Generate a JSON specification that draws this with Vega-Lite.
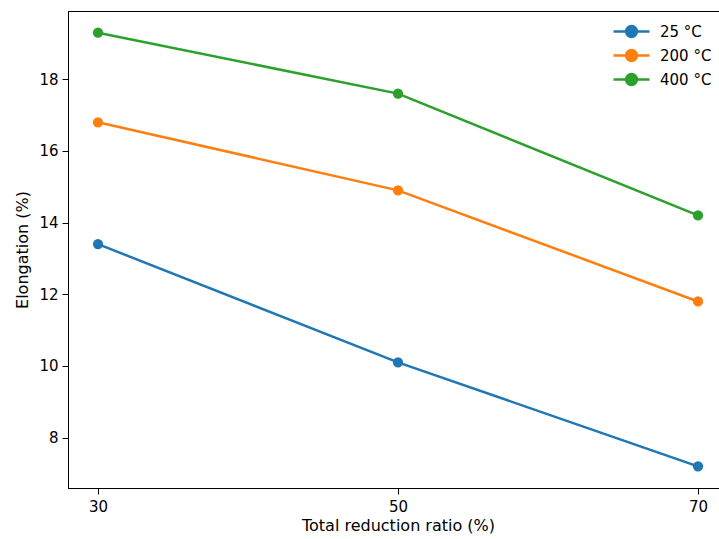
{
  "$schema": "https://vega.github.io/schema/vega-lite/v6.json",
  "autosize": {"type": "none"},
  "padding": {"left": 68, "top": 11, "right": 0, "bottom": 51},
  "width": 660,
  "height": 477,
  "background": "white",
  "config": {
    "font": "DejaVu Sans",
    "view": {"stroke": "black", "strokeWidth": 1},
    "axis": {
      "labelFont": "DejaVu Sans", "titleFont": "DejaVu Sans",
      "labelFontSize": 15, "titleFontSize": 16,
      "labelColor": "black", "titleColor": "black",
      "titleFontWeight": "normal",
      "domainColor": "black", "tickColor": "black",
      "tickSize": 6, "grid": false, "labelPadding": 4
    }
  },
  "data": {"values": [
    {"ratio": 30, "elong": 13.4, "temp": "25 °C"},
    {"ratio": 50, "elong": 10.1, "temp": "25 °C"},
    {"ratio": 70, "elong": 7.2, "temp": "25 °C"},
    {"ratio": 30, "elong": 16.8, "temp": "200 °C"},
    {"ratio": 50, "elong": 14.9, "temp": "200 °C"},
    {"ratio": 70, "elong": 11.8, "temp": "200 °C"},
    {"ratio": 30, "elong": 19.3, "temp": "400 °C"},
    {"ratio": 50, "elong": 17.6, "temp": "400 °C"},
    {"ratio": 70, "elong": 14.2, "temp": "400 °C"}
  ]},
  "encoding": {
    "x": {"field": "ratio", "type": "quantitative",
      "scale": {"domain": [28, 72], "nice": false, "zero": false},
      "axis": {"values": [30, 50, 70], "title": "Total reduction ratio (%)", "labelPadding": 5, "titlePadding": 3}},
    "y": {"field": "elong", "type": "quantitative",
      "scale": {"domain": [6.595, 19.905], "nice": false, "zero": false},
      "axis": {"values": [8, 10, 12, 14, 16, 18], "title": "Elongation (%)", "titlePadding": 8}},
    "color": {"field": "temp", "type": "nominal",
      "sort": ["25 °C", "200 °C", "400 °C"],
      "scale": {"domain": ["25 °C", "200 °C", "400 °C"], "range": ["#1f77b4", "#ff7f0e", "#2ca02c"]},
      "legend": {
        "title": null, "orient": "none", "legendX": 553, "legendY": 10,
        "symbolType": "M-2,0L2,0M-0.6,0A0.6,0.6 0 1,1 0.6,0A0.6,0.6 0 1,1 -0.6,0Z",
        "symbolSize": 324, "symbolStrokeWidth": 2.5,
        "labelFont": "DejaVu Sans", "labelFontSize": 15, "labelColor": "black",
        "labelOffset": 18, "rowPadding": 3,
        "encode": {"symbols": {"update": {"fill": {"scale": "color", "field": "value"}, "fillOpacity": {"value": 1}, "opacity": {"value": 1}}}}
      }
    }
  },
  "layer": [
    {"mark": {"type": "line", "strokeWidth": 2.5}},
    {"mark": {"type": "point", "filled": true, "size": 105, "opacity": 1}}
  ]
}
